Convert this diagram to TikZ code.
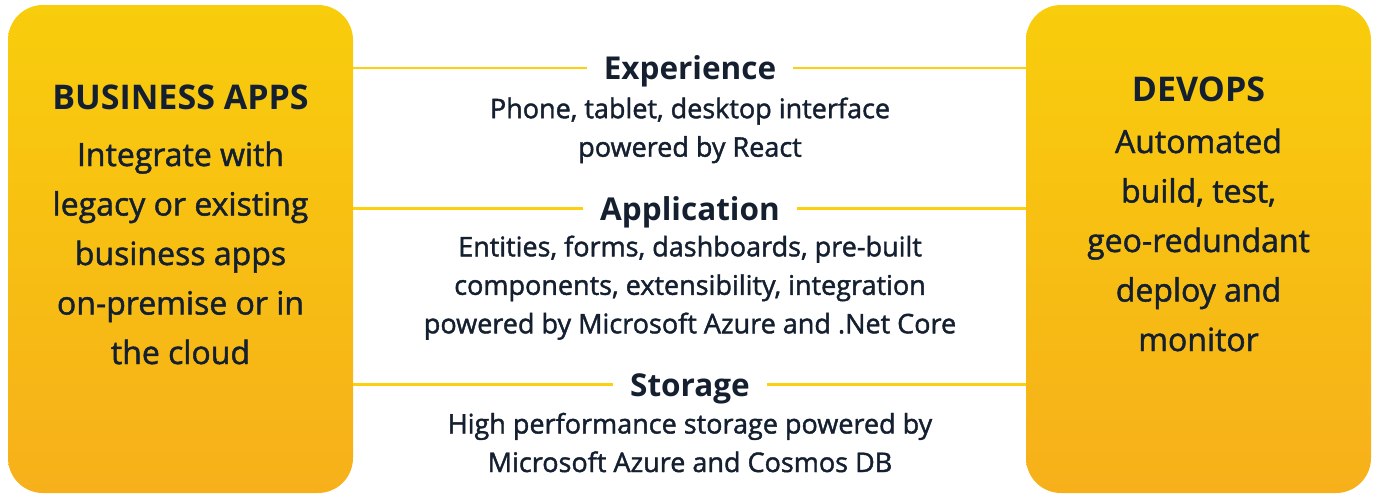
\documentclass[tikz,border=0pt]{standalone}
\usepackage{fontspec}
\setmainfont{Open Sans}
\newfontfamily\semib[FakeBold=1.5]{Open Sans}
\newfontfamily\headf{Open Sans Bold}
\definecolor{ink}{HTML}{141F2F}
\definecolor{linecol}{HTML}{FCD00C}
\definecolor{boxtop}{HTML}{F8CD0C}
\definecolor{boxmid}{HTML}{FAC352}
\definecolor{boxbot}{HTML}{F7B01A}
\begin{document}
\begin{tikzpicture}[x=1pt,y=-1pt,
  panel/.style={rounded corners=35pt, top color=boxtop, middle color=boxmid, bottom color=boxbot, draw=none,
     minimum width=345pt, minimum height=488pt, inner sep=0pt},
  conn/.style={draw=linecol, line width=2.6pt},
  head/.style={font=\headf\fontsize{31.5}{36}\selectfont, text=ink, anchor=base, inner xsep=17pt, inner ysep=0pt,
     text height=22.5pt, text depth=0pt},
  boxhead/.style={font=\headf\fontsize{34}{40}\selectfont, text=ink, anchor=base, inner sep=0pt},
  boxbody/.style={font=\semib\fontsize{32}{49.5}\selectfont, text=ink, anchor=base, align=center, inner sep=0pt},
  midbody/.style={font=\semib\fontsize{27}{38.5}\selectfont, text=ink, anchor=base, align=center, inner sep=0pt}]
\useasboundingbox (0,0) rectangle (1378,496);
% side panels
\node[panel] (L) at (180.5,249) {};
\node[panel] (R) at (1198.5,249) {};
% left text (base anchor = last line)
\node[boxhead] (Lh) at (180.5,109) {BUSINESS APPS};
\node[boxbody] (Lb) at (180.5,364) {Integrate with\\legacy or existing\\business apps\\on-premise or in\\the cloud};
% right text
\node[boxhead] (Rh) at (1198.5,101) {DEVOPS};
\node[boxbody] (Rb) at (1198.5,351) {Automated\\build, test,\\geo-redundant\\deploy and\\monitor};
% middle headings
\node[head] (E) at (690,79.3) {Experience};
\node[head] (A) at (690,220) {Application};
\node[head] (S) at (690,396) {Storage};
% middle bodies
\node[midbody] (Eb) at (690,156.7) {Phone, tablet, desktop interface\\powered by React};
\node[midbody] (Ab) at (690,333.3) {Entities, forms, dashboards, pre-built\\components, extensibility, integration\\powered by Microsoft Azure and .Net Core};
\node[midbody] (Sb) at (690,472) {High performance storage powered by\\Microsoft Azure and Cosmos DB};
% connectors
\draw[conn] (L.east |- E.west) -- (E.west);
\draw[conn] (E.east) -- (R.west |- E.east);
\draw[conn] (L.east |- A.west) -- (A.west);
\draw[conn] (A.east) -- (R.west |- A.east);
\draw[conn] (L.east |- S.west) -- (S.west);
\draw[conn] (S.east) -- (R.west |- S.east);
\end{tikzpicture}
\end{document}
